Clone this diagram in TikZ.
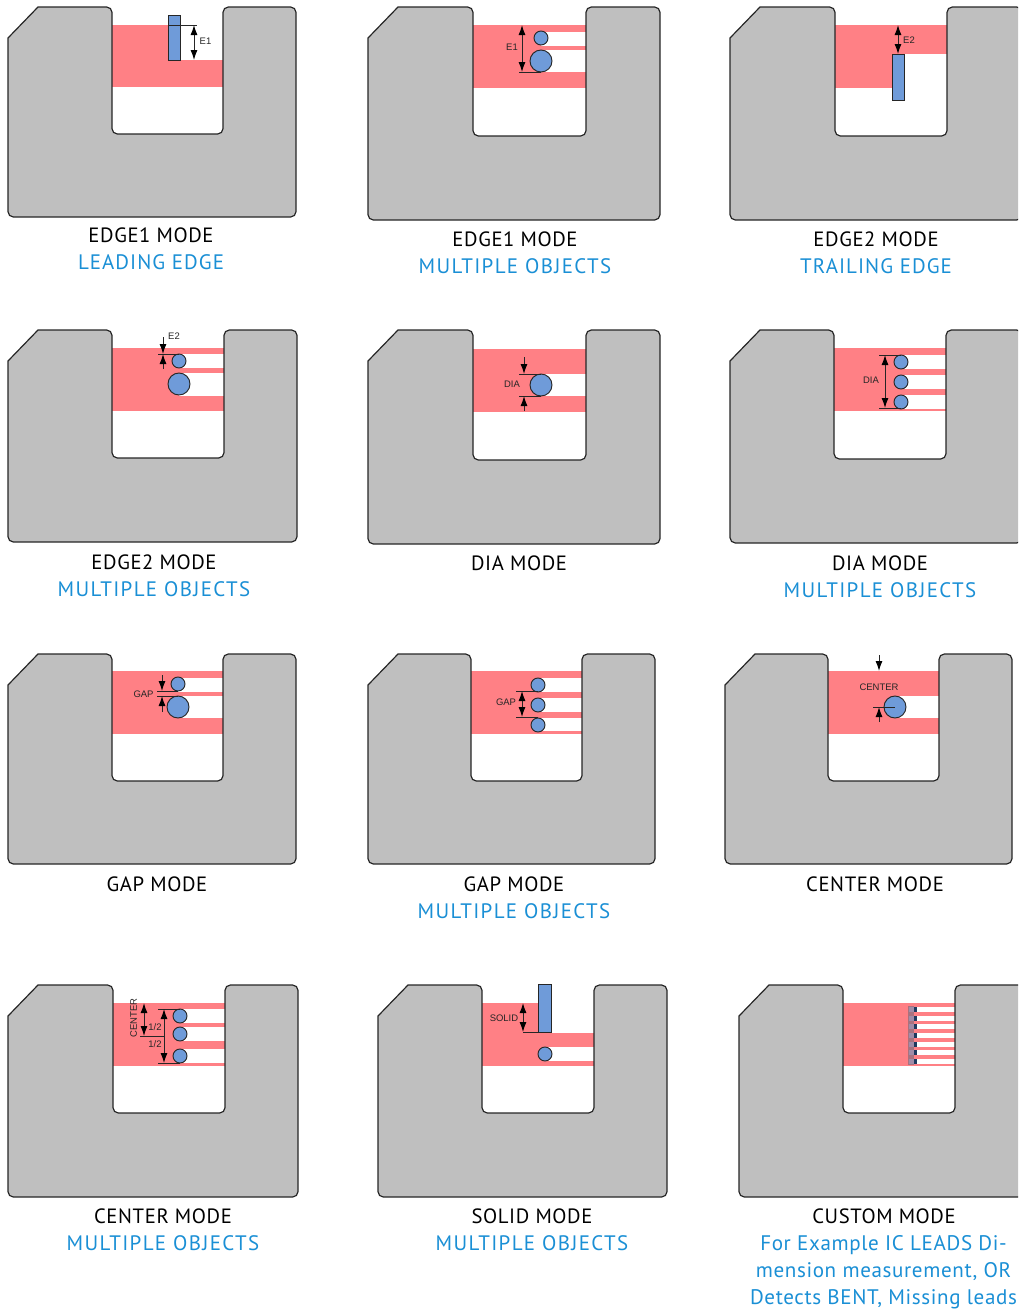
\documentclass[tikz,border=0pt]{standalone}
\usepackage{fontspec}
\setmainfont[LetterSpace=3]{PT Sans}
\newfontfamily\labelfont{Liberation Sans}
\newfontfamily\capsfont[LetterSpace=6.5]{PT Sans}
\newfontfamily\capsmidfont[LetterSpace=5]{PT Sans}
\usetikzlibrary{arrows.meta}
\definecolor{holdergray}{HTML}{BFBFBF}
\definecolor{bandred}{HTML}{FF8085}
\definecolor{objblue}{HTML}{6F9BD9}
\definecolor{capblue}{HTML}{1A8FD5}
\definecolor{bargray}{HTML}{A9727F}
\definecolor{pingray}{HTML}{A08CA8}
\definecolor{pinnavy}{HTML}{1F3A5F}
\tikzset{
  holder/.style={draw=black!85, fill=holdergray, line width=0.9pt},
  band/.style={fill=bandred},
  slot/.style={fill=white},
  obj/.style={draw=black!85, fill=objblue, line width=0.7pt},
  dimline/.style={draw=black!85, line width=0.75pt},
  dimarrow/.style={dimline, -{Latex[length=7.5pt,width=5.2pt,black]}},
  dimboth/.style={dimline, {Latex[length=7.5pt,width=5.2pt,black]}-{Latex[length=7.5pt,width=5.2pt,black]}},
  dimlabel/.style={font=\labelfont\fontsize{7.1}{8}\selectfont, text=black!85, inner sep=0pt},
  capmain/.style={font=\fontsize{15.5}{18}\selectfont, inner sep=0pt},
  capsub/.style={capmain, text=capblue},
  capsubtext/.style={capsub, font=\fontsize{15.8}{18}\selectfont},
  capsubmid/.style={capsub, font=\capsmidfont\fontsize{15.7}{18}\selectfont},
  capsubwide/.style={capsub, font=\capsfont\fontsize{15.7}{18}\selectfont},
}
% #1 left, #2 top, #3 right, #4 bottom, #5 notch left, #6 notch right, #7 notch bottom
\newcommand{\holderbody}[7]{
  \draw[holder] (#1,#2+31) -- (#1+30,#2) [rounded corners=4pt] -- (#5,#2) -- (#5,#7) -- (#6,#7)
    -- (#6,#2) -- (#3,#2) -- (#3,#4) -- (#1,#4) [sharp corners] -- cycle;
}
% #1 x, #2 y, #3 radius
\newcommand{\roundobj}[3]{
  \draw[obj] (#1,#2) circle[radius=#3*0.75pt];
}
\begin{document}
\begin{tikzpicture}[x=0.75pt, y=-0.75pt]
  \useasboundingbox (0,0) rectangle (1018,1310);
  \clip (0,0) rectangle (1018,1310);

  % row 1: edge1
  \fill[band] (112,25) rectangle (223,87);
  \fill[slot] (174,25) rectangle (223,60);
  \holderbody{8}{7}{296}{217}{112}{223}{134}
  \draw[obj] (168,15) rectangle (180,60);
  \draw[dimline] (168,25) -- (197,25);
  \draw[dimboth] (194,25) -- (194,60);
  \node[dimlabel] (lblEa) at (205.5,41) {E1};
  \node[capmain] (capAa) at (151,235) {EDGE1 MODE};
  \node[capsubmid] (subAa) at (151,262) {LEADING EDGE};

  % row 1: edge1 multiple
  \fill[band] (473,25) rectangle (586,88);
  \fill[slot] (541,32) rectangle (586,46);
  \fill[slot] (541,50) rectangle (586,72);
  \holderbody{368}{7}{660}{220}{473}{586}{136}
  \roundobj{541}{38}{7}
  \roundobj{541}{61}{11}
  \draw[dimline] (519,72) -- (541,72);
  \draw[dimboth] (522,25) -- (522,72);
  \node[dimlabel] (lblEb) at (512,47) {E1};
  \node[capmain] (capAb) at (515,239) {EDGE1 MODE};
  \node[capsubwide] (subAb) at (515,266) {MULTIPLE OBJECTS};

  % row 1: edge2
  \fill[band] (835,25) rectangle (947,54);
  \fill[band] (835,54) rectangle (898,88);
  \holderbody{730}{7}{1022}{220}{835}{947}{136}
  \draw[obj] (892,54) rectangle (904,100);
  \draw[dimboth] (898,25) -- (898,54);
  \node[dimlabel] (lblEc) at (909,40) {E2};
  \node[capmain] (capAc) at (876,239) {EDGE2 MODE};
  \node[capsubmid] (subAc) at (876,266) {TRAILING EDGE};

  % row 2: edge2 multiple
  \fill[band] (112,348) rectangle (224,411);
  \fill[slot] (179,354) rectangle (224,368);
  \fill[slot] (179,373) rectangle (224,396);
  \holderbody{8}{330}{297}{542}{112}{224}{458}
  \roundobj{179}{361}{7}
  \roundobj{179}{384}{11}
  \draw[dimline] (158,354) -- (179,354);
  \draw[dimarrow] (163,337) -- (163,354);
  \draw[dimarrow] (163,369) -- (163,354);
  \node[dimlabel] (lblEd) at (174,336) {E2};
  \node[capmain] (capBa) at (154,562) {EDGE2 MODE};
  \node[capsubwide] (subBa) at (154,589) {MULTIPLE OBJECTS};

  % row 2: dia
  \fill[band] (473,349) rectangle (586,412);
  \fill[slot] (541,374) rectangle (586,396);
  \holderbody{368}{330}{660}{544}{473}{586}{460}
  \roundobj{541}{385}{11}
  \draw[dimline] (519,374) -- (541,374);
  \draw[dimline] (519,396) -- (541,396);
  \draw[dimarrow] (524,357) -- (524,374);
  \draw[dimarrow] (524,411) -- (524,396);
  \node[dimlabel] (lblDa) at (512,384) {DIA};
  \node[capmain] (capBb) at (519,563) {DIA MODE};

  % row 2: dia multiple
  \fill[band] (834,348) rectangle (946,411);
  \foreach \slotY in {355,375,395} {
    \fill[slot] (901,\slotY) rectangle (946,\slotY+14);
  }
  \holderbody{730}{330}{1022}{543}{834}{946}{459}
  \foreach \objY in {362,382,402} {
    \roundobj{901}{\objY}{7}
  }
  \draw[dimline] (879,355) -- (901,355);
  \draw[dimline] (879,408) -- (901,408);
  \draw[dimboth] (885,355) -- (885,408);
  \node[dimlabel] (lblDb) at (871,380) {DIA};
  \node[capmain] (capBc) at (880,563) {DIA MODE};
  \node[capsubwide] (subBc) at (880,590) {MULTIPLE OBJECTS};

  % row 3: gap
  \fill[band] (112,671) rectangle (223,734);
  \fill[slot] (178,678) rectangle (223,692);
  \fill[slot] (178,696) rectangle (223,718);
  \holderbody{8}{654}{296}{864}{112}{223}{781}
  \roundobj{178}{684}{7}
  \roundobj{178}{707}{11}
  \draw[dimline] (157,691) -- (178,691);
  \draw[dimline] (157,696) -- (178,696);
  \draw[dimarrow] (162,675) -- (162,691);
  \draw[dimarrow] (162,712) -- (162,696);
  \node[dimlabel] (lblGa) at (143.5,694) {GAP};
  \node[capmain] (capCa) at (157,884) {GAP MODE};

  % row 3: gap multiple
  \fill[band] (471,671) rectangle (582,734);
  \fill[slot] (538,678) rectangle (582,692);
  \fill[slot] (538,698) rectangle (582,712);
  \fill[slot] (538,718) rectangle (582,731);
  \holderbody{368}{654}{655}{864}{471}{582}{781}
  \foreach \objY in {685,705,725} {
    \roundobj{538}{\objY}{7}
  }
  \draw[dimline] (516,691) -- (538,691);
  \draw[dimline] (516,717) -- (538,717);
  \draw[dimboth] (522,691) -- (522,717);
  \node[dimlabel] (lblGb) at (506,702) {GAP};
  \node[capmain] (capCb) at (514,884) {GAP MODE};
  \node[capsubwide] (subCb) at (514,911) {MULTIPLE OBJECTS};

  % row 3: center
  \fill[band] (828,671) rectangle (939,734);
  \fill[slot] (895,696) rectangle (939,718);
  \holderbody{725}{654}{1012}{864}{828}{939}{781}
  \roundobj{895}{707}{11}
  \draw[dimline] (873,707) -- (895,707);
  \draw[dimarrow] (879,655) -- (879,671);
  \draw[dimarrow] (879,722) -- (879,707);
  \node[dimlabel] (lblCa) at (879,687) {CENTER};
  \node[capmain] (capCc) at (875,884) {CENTER MODE};

  % row 4: center multiple
  \fill[band] (113,1003) rectangle (225,1066);
  \fill[slot] (180,1009) rectangle (225,1023);
  \fill[slot] (180,1027) rectangle (225,1041);
  \fill[slot] (180,1049) rectangle (225,1063);
  \holderbody{8}{985}{298}{1197}{113}{225}{1113}
  \foreach \objY in {1016,1034,1056} {
    \roundobj{180}{\objY}{7}
  }
  \draw[dimline] (158,1009) -- (180,1009);
  \draw[dimline] (158,1063) -- (180,1063);
  \draw[dimline] (140,1036) -- (164,1036);
  \draw[dimboth] (144,1003) -- (144,1036);
  \draw[dimboth] (164,1009) -- (164,1063);
  \node[dimlabel] (lblHa) at (155,1027) {1/2};
  \node[dimlabel] (lblHb) at (155,1044) {1/2};
  \node[dimlabel, rotate=90] (lblCb) at (133.5,1018) {CENTER};
  \node[capmain] (capDa) at (163,1216) {CENTER MODE};
  \node[capsubwide] (subDa) at (163,1243) {MULTIPLE OBJECTS};

  % row 4: solid
  \fill[band] (482,1003) rectangle (544,1033);
  \fill[band] (482,1033) rectangle (594,1066);
  \fill[slot] (545,1047) rectangle (594,1061);
  \holderbody{378}{985}{667}{1197}{482}{594}{1113}
  \draw[obj] (538,984) rectangle (551,1032);
  \roundobj{545}{1054}{7}
  \draw[dimline] (523,1032) -- (538,1032);
  \draw[dimboth] (523,1003) -- (523,1032);
  \node[dimlabel] (lblSa) at (504,1018) {SOLID};
  \node[capmain] (capDb) at (532,1216) {SOLID MODE};
  \node[capsubwide] (subDb) at (532,1243) {MULTIPLE OBJECTS};

  % row 4: custom
  \fill[band] (843,1003) rectangle (955,1066);
  \foreach \pinY in {1009,1018,1026,1035,1044,1052,1061} {
    \fill[slot] (914,\pinY-2.5) rectangle (955,\pinY+2.5);
  }
  \fill[bargray] (908,1006) rectangle (914,1065);
  \foreach \pinY in {1009,1018,1026,1035,1044,1052,1061} {
    \fill[pingray] (909,\pinY-2.5) rectangle (914,\pinY+2.5);
    \fill[pinnavy] (914,\pinY-2.5) rectangle (917,\pinY+2.5);
  }
  \holderbody{739}{985}{1031}{1197}{843}{955}{1113}
  \node[capmain] (capDc) at (884,1216) {CUSTOM MODE};
  \node[capsubtext] (subDc) at (883.5,1245) {For Example IC LEADS Di-};
  \node[capsubtext] (subDd) at (883.5,1272) {mension measurement, OR};
  \node[capsubtext] (subDe) at (883.5,1299) {Detects BENT, Missing leads};
\end{tikzpicture}
\end{document}
